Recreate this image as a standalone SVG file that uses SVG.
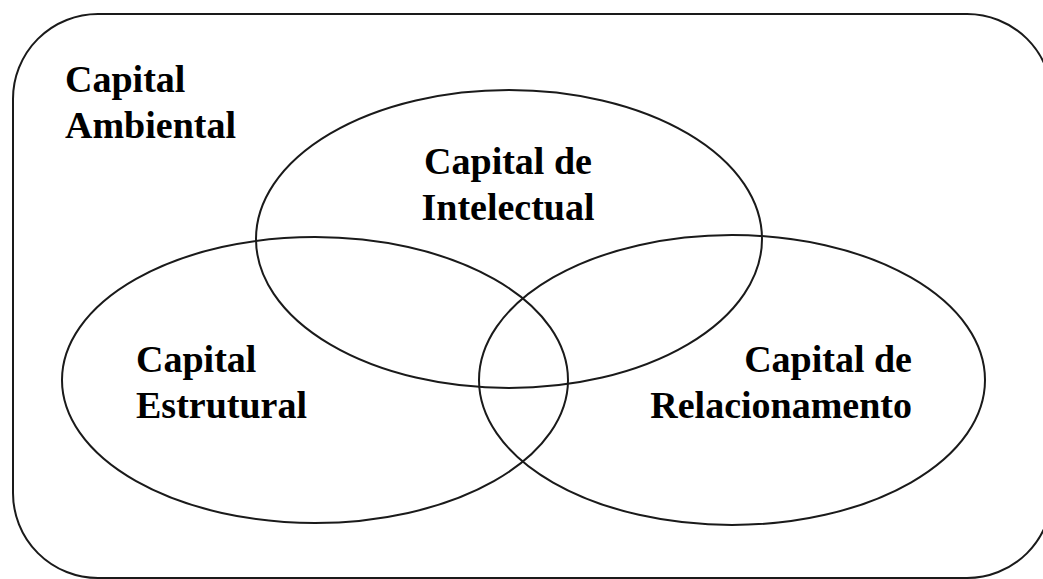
<svg xmlns="http://www.w3.org/2000/svg" width="1043" height="579" viewBox="0 0 1043 579">
<style>
  .shape { fill: none; stroke: #1a1a1a; stroke-width: 2; }
  .lbl { font-family: "Liberation Serif", "Times New Roman", serif; font-weight: bold; font-size: 38px; fill: #000; }
</style>
<rect width="1043" height="579" fill="#fff"/>
<g id="ambiental">
  <rect class="shape" x="13" y="14" width="1039" height="564" rx="85" ry="85"/>
  <text class="lbl" x="65" y="92">Capital</text>
  <text class="lbl" x="65" y="138">Ambiental</text>
</g>
<g id="intelectual">
  <ellipse class="shape" cx="509" cy="239" rx="253" ry="149"/>
  <text class="lbl" x="508" y="174" text-anchor="middle">Capital de</text>
  <text class="lbl" x="508" y="220" text-anchor="middle">Intelectual</text>
</g>
<g id="estrutural">
  <ellipse class="shape" cx="315" cy="380" rx="253" ry="143"/>
  <text class="lbl" x="136" y="372">Capital</text>
  <text class="lbl" x="136" y="418">Estrutural</text>
</g>
<g id="relacionamento">
  <ellipse class="shape" cx="732" cy="380" rx="253" ry="145"/>
  <text class="lbl" x="912" y="372" text-anchor="end">Capital de</text>
  <text class="lbl" x="912" y="418" text-anchor="end">Relacionamento</text>
</g>
<g id="connectors"></g>
</svg>
